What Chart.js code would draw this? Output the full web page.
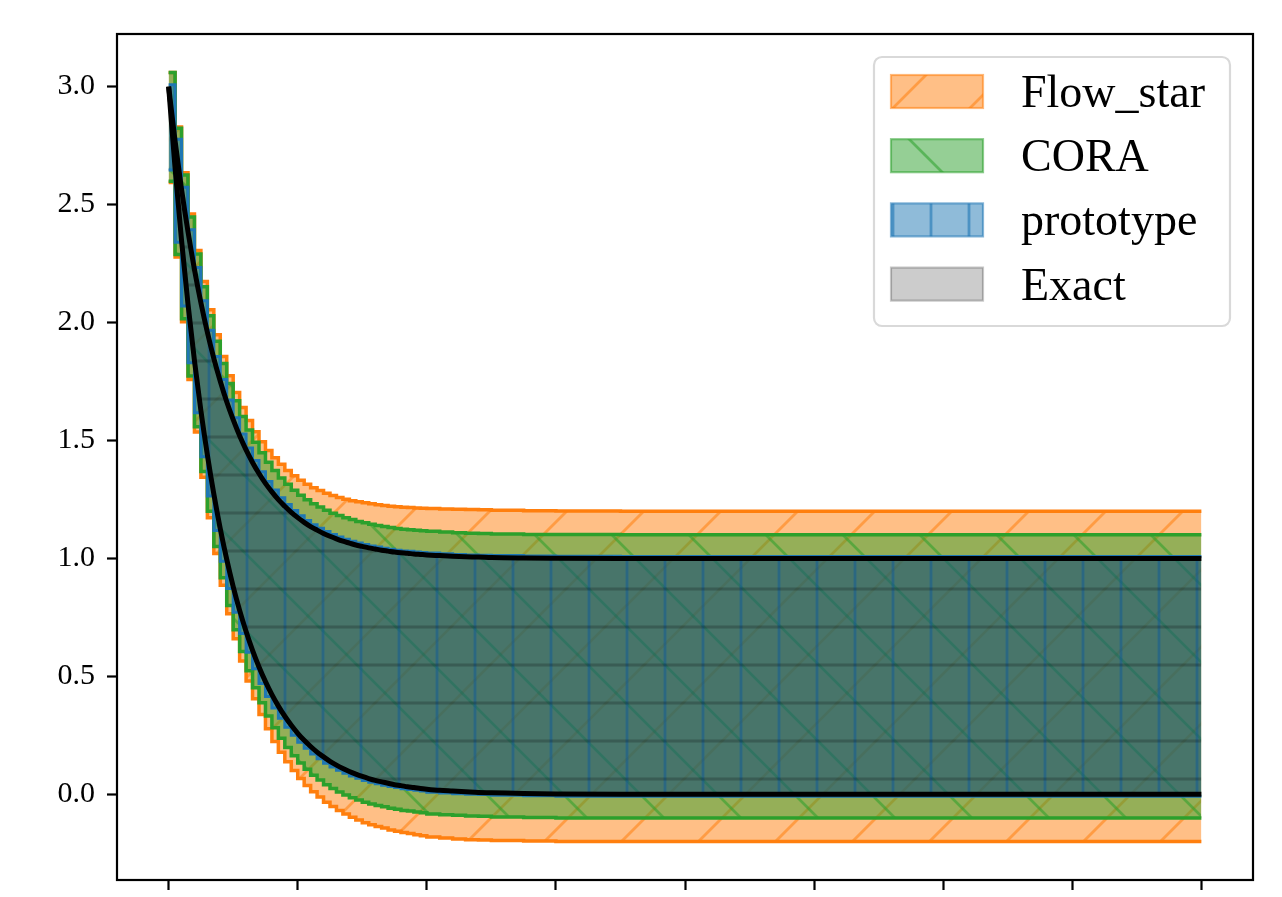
<!DOCTYPE html>
<html lang="en">
<head>
  <meta charset="UTF-8" />
  <title>Reachable set bounds</title>
  <script src="https://cdn.jsdelivr.net/npm/chart.js"></script>
  <style>
    html, body { margin: 0; padding: 0; background: #fff; }
    .wrap { width: 1282px; height: 897px; position: relative; }
  </style>
</head>
<body>
  <div class="wrap"><canvas id="chart"></canvas></div>

  <script>
    // time grid (dense while the bounds fall, sparse once they settle)
    const t = [0, 0.05, 0.1, 0.15, 0.2, 0.25, 0.3, 0.35, 0.4, 0.45, 0.5, 0.55, 0.6, 0.65, 0.7, 0.75, 0.8, 0.85, 0.9, 0.95,
               1.0, 1.05, 1.1, 1.15, 1.2, 1.25, 1.3, 1.35, 1.4, 1.45, 1.5, 1.55, 1.6, 1.65, 1.7, 1.75, 1.8, 1.85, 1.9, 1.95,
               2.0, 2.1, 2.2, 2.3, 2.4, 2.5, 2.75, 3, 3.5, 4, 5, 6, 7, 8];

    const exactUpper = [3.000, 2.769, 2.565, 2.385, 2.225, 2.084, 1.959, 1.848, 1.751, 1.664, 1.588, 1.520, 1.460, 1.407, 1.360, 1.318, 1.282, 1.249, 1.221, 1.195,
                        1.173, 1.153, 1.135, 1.120, 1.106, 1.094, 1.083, 1.073, 1.065, 1.057, 1.051, 1.045, 1.040, 1.035, 1.031, 1.027, 1.024, 1.022, 1.019, 1.017,
                        1.015, 1.012, 1.009, 1.007, 1.006, 1.004, 1.002, 1.001, 1.000, 1.000, 1.000, 1.000, 1.000, 1.000];
    const exactLower = [3.000, 2.654, 2.348, 2.078, 1.838, 1.626, 1.439, 1.273, 1.126, 0.996, 0.881, 0.780, 0.690, 0.610, 0.540, 0.478, 0.423, 0.374, 0.331, 0.293,
                        0.259, 0.229, 0.203, 0.179, 0.159, 0.140, 0.124, 0.110, 0.097, 0.086, 0.076, 0.067, 0.059, 0.053, 0.047, 0.041, 0.037, 0.032, 0.029, 0.025,
                        0.022, 0.017, 0.014, 0.011, 0.008, 0.007, 0.004, 0.002, 0.000, 0.000, 0.000, 0.000, 0.000, 0.000];

    // boxes: value i holds over [t[i], t[i+1]]
    const flowHi = [3.060, 2.829, 2.635, 2.460, 2.305, 2.174, 2.054, 1.948, 1.856, 1.774, 1.703, 1.640, 1.585, 1.537, 1.495, 1.458, 1.427, 1.399, 1.373, 1.350,
                    1.331, 1.315, 1.300, 1.288, 1.276, 1.267, 1.258, 1.251, 1.245, 1.240, 1.236, 1.232, 1.228, 1.224, 1.221, 1.219, 1.217, 1.216, 1.214, 1.213,
                    1.212, 1.210, 1.208, 1.207, 1.206, 1.204, 1.202, 1.201, 1.200, 1.200, 1.200, 1.200, 1.200, 1.200];
    const flowLo = [2.594, 2.278, 2.003, 1.758, 1.536, 1.344, 1.173, 1.021, 0.886, 0.766, 0.660, 0.565, 0.480, 0.405, 0.338, 0.278, 0.224, 0.179, 0.138, 0.101,
                    0.067, 0.038, 0.011, -0.011, -0.033, -0.051, -0.068, -0.083, -0.097, -0.109, -0.120, -0.129, -0.136, -0.143, -0.151, -0.156, -0.162, -0.166, -0.171, -0.175,
                    -0.181, -0.185, -0.189, -0.192, -0.193, -0.196, -0.198, -0.200, -0.200, -0.200, -0.200, -0.200, -0.200, -0.200];
    const coraHi = [3.060, 2.824, 2.625, 2.447, 2.290, 2.152, 2.029, 1.921, 1.826, 1.742, 1.668, 1.602, 1.544, 1.493, 1.448, 1.408, 1.373, 1.341, 1.314, 1.289,
                    1.268, 1.249, 1.232, 1.218, 1.204, 1.192, 1.182, 1.173, 1.165, 1.157, 1.151, 1.145, 1.140, 1.135, 1.131, 1.127, 1.124, 1.122, 1.119, 1.117,
                    1.115, 1.112, 1.109, 1.107, 1.106, 1.104, 1.102, 1.101, 1.100, 1.100, 1.100, 1.100, 1.100, 1.100];
    const coraLo = [2.599, 2.288, 2.016, 1.773, 1.558, 1.369, 1.200, 1.051, 0.918, 0.801, 0.698, 0.606, 0.524, 0.452, 0.388, 0.332, 0.282, 0.238, 0.199, 0.164,
                    0.133, 0.106, 0.081, 0.061, 0.041, 0.025, 0.010, -0.003, -0.014, -0.024, -0.033, -0.041, -0.047, -0.053, -0.059, -0.063, -0.068, -0.071, -0.075, -0.078,
                    -0.083, -0.086, -0.089, -0.092, -0.093, -0.096, -0.098, -0.100, -0.100, -0.100, -0.100, -0.100, -0.100, -0.100];
    const protoHi = [3.008, 2.777, 2.573, 2.393, 2.233, 2.092, 1.967, 1.856, 1.759, 1.672, 1.596, 1.528, 1.468, 1.415, 1.368, 1.326, 1.290, 1.257, 1.229, 1.203,
                     1.181, 1.161, 1.143, 1.128, 1.114, 1.102, 1.091, 1.081, 1.073, 1.065, 1.059, 1.053, 1.048, 1.043, 1.039, 1.035, 1.032, 1.030, 1.027, 1.025,
                     1.023, 1.020, 1.017, 1.015, 1.014, 1.012, 1.010, 1.009, 1.008, 1.008, 1.008, 1.008, 1.008, 1.008];
    const protoLo = [2.646, 2.340, 2.070, 1.830, 1.618, 1.431, 1.265, 1.118, 0.988, 0.873, 0.772, 0.682, 0.602, 0.532, 0.470, 0.415, 0.366, 0.323, 0.285, 0.251,
                     0.221, 0.195, 0.171, 0.151, 0.132, 0.116, 0.102, 0.089, 0.078, 0.068, 0.059, 0.051, 0.045, 0.039, 0.033, 0.029, 0.024, 0.021, 0.017, 0.014,
                     0.009, 0.006, 0.003, 0.000, -0.001, -0.004, -0.006, -0.008, -0.008, -0.008, -0.008, -0.008, -0.008, -0.008];

    const xTicks = [0, 1, 2, 3, 4, 5, 6, 7, 8];
    const yTicks = [0, 0.5, 1.0, 1.5, 2.0, 2.5, 3.0];
    const legendLabels = ['Flow_star', 'CORA', 'prototype', 'Exact'];

    const ctx = document.getElementById('chart').getContext('2d');

    // matplotlib-like hatch tile
    function hatch(fill, stroke, kind, size) {
      const c = document.createElement('canvas');
      c.width = size; c.height = size;
      const g = c.getContext('2d');
      g.fillStyle = fill;
      g.fillRect(0, 0, size, size);
      g.strokeStyle = stroke;
      g.lineWidth = 2.8;
      g.beginPath();
      if (kind === '/') {
        for (const o of [-size, 0, size]) { g.moveTo(o - 1, size + 1); g.lineTo(o + size + 1, -1); }
      } else if (kind === '\\') {
        for (const o of [-size, 0, size]) { g.moveTo(o - 1, -1); g.lineTo(o + size + 1, size + 1); }
      } else if (kind === '|') {
        g.moveTo(size / 2, 0); g.lineTo(size / 2, size);
      } else {
        g.moveTo(0, size / 2); g.lineTo(size, size / 2);
      }
      g.stroke();
      return ctx.createPattern(c, 'repeat');
    }

    const orangeFill = hatch('rgba(255,127,14,0.5)', 'rgba(255,127,14,0.55)', '/', 77);
    const greenFill = hatch('rgba(44,160,44,0.5)', 'rgba(44,160,44,0.55)', '\\', 77);
    const blueFill = hatch('rgba(31,119,180,0.5)', 'rgba(31,119,180,0.6)', '|', 38);
    const grayFill = hatch('rgba(0,0,0,0.2)', 'rgba(0,0,0,0.22)', '-', 38);

    const pts = arr => t.map((x, i) => ({ x: x, y: arr[i] }));

    function band(values, color, width, order, fill, bg) {
      return {
        data: pts(values),
        borderColor: color,
        borderWidth: width,
        backgroundColor: bg || 'transparent',
        fill: fill,
        stepped: true,
        pointRadius: 0,
        order: order
      };
    }

    const framePlugin = {
      id: 'frame',
      afterDraw(chart) {
        const a = chart.chartArea;
        const c = chart.ctx;
        c.save();
        c.strokeStyle = '#000';
        c.lineWidth = 2.2;
        c.strokeRect(a.left, a.top, a.right - a.left, a.bottom - a.top);
        c.restore();
      }
    };

    const legendPlugin = {
      id: 'boxLegend',
      afterDraw(chart) {
        const c = chart.ctx;
        const fills = [orangeFill, greenFill, blueFill, 'rgba(0,0,0,0.2)'];
        const edges = ['rgba(255,127,14,0.55)', 'rgba(44,160,44,0.55)', 'rgba(31,119,180,0.55)', 'rgba(0,0,0,0.22)'];
        c.save();
        c.beginPath();
        c.roundRect(874, 57, 356, 269, 8);
        c.fillStyle = 'rgba(255,255,255,0.8)';
        c.fill();
        c.strokeStyle = '#d9d9d9';
        c.lineWidth = 2.2;
        c.stroke();
        legendLabels.forEach((label, i) => {
          const y = 75 + i * 64.2;
          c.fillStyle = fills[i];
          c.fillRect(891, y, 92, 33);
          c.strokeStyle = edges[i];
          c.lineWidth = 2.2;
          c.strokeRect(891, y, 92, 33);
          c.fillStyle = '#000';
          c.font = '46px "Liberation Serif"';
          c.textBaseline = 'alphabetic';
          c.fillText(label, 1021, y + 32);
        });
        c.restore();
      }
    };

    const axisGrid = { drawOnChartArea: false, drawTicks: true, tickLength: 10, tickWidth: 2.2, tickColor: '#000' };

    new Chart(ctx, {
      type: 'line',
      data: {
        datasets: [
          band(flowHi, '#ff7f0e', 3.5, 80, '+1', orangeFill),
          band(flowLo, '#ff7f0e', 3.5, 70, false),
          band(coraHi, '#2ca02c', 3.5, 60, '+1', greenFill),
          band(coraLo, '#2ca02c', 3.5, 50, false),
          band(protoHi, '#1f77b4', 3, 40, '+1', blueFill),
          band(protoLo, '#1f77b4', 3, 30, false),
          { data: pts(exactUpper), borderColor: '#000', borderWidth: 5, backgroundColor: grayFill, fill: '+1',
            pointRadius: 0, cubicInterpolationMode: 'monotone', order: 20 },
          { data: pts(exactLower), borderColor: '#000', borderWidth: 5, fill: false,
            pointRadius: 0, cubicInterpolationMode: 'monotone', order: 10 }
        ]
      },
      options: {
        responsive: true,
        maintainAspectRatio: false,
        animation: false,
        layout: { padding: { left: 0, right: 29, top: 34, bottom: 0 } },
        plugins: { legend: { display: false }, tooltip: { enabled: false } },
        scales: {
          x: {
            type: 'linear',
            min: -0.4,
            max: 8.4,
            afterBuildTicks: s => { s.ticks = xTicks.map(v => ({ value: v })); },
            afterFit: s => {
              s.height = 17;
              s.paddingLeft = s.paddingRight = s.paddingTop = s.paddingBottom = 0;
            },
            ticks: { display: false, autoSkip: false },
            grid: axisGrid,
            border: { display: false }
          },
          y: {
            type: 'linear',
            min: -0.363,
            max: 3.223,
            afterBuildTicks: s => { s.ticks = yTicks.map(v => ({ value: v })); },
            afterFit: s => {
              s.width = 117;
              s.paddingLeft = s.paddingRight = s.paddingTop = s.paddingBottom = 0;
            },
            ticks: {
              callback: v => v.toFixed(1),
              autoSkip: false,
              color: '#000',
              padding: 12,
              font: { family: 'Liberation Serif', size: 30 }
            },
            grid: axisGrid,
            border: { display: false }
          }
        }
      },
      plugins: [framePlugin, legendPlugin]
    });
  </script>
</body>
</html>
